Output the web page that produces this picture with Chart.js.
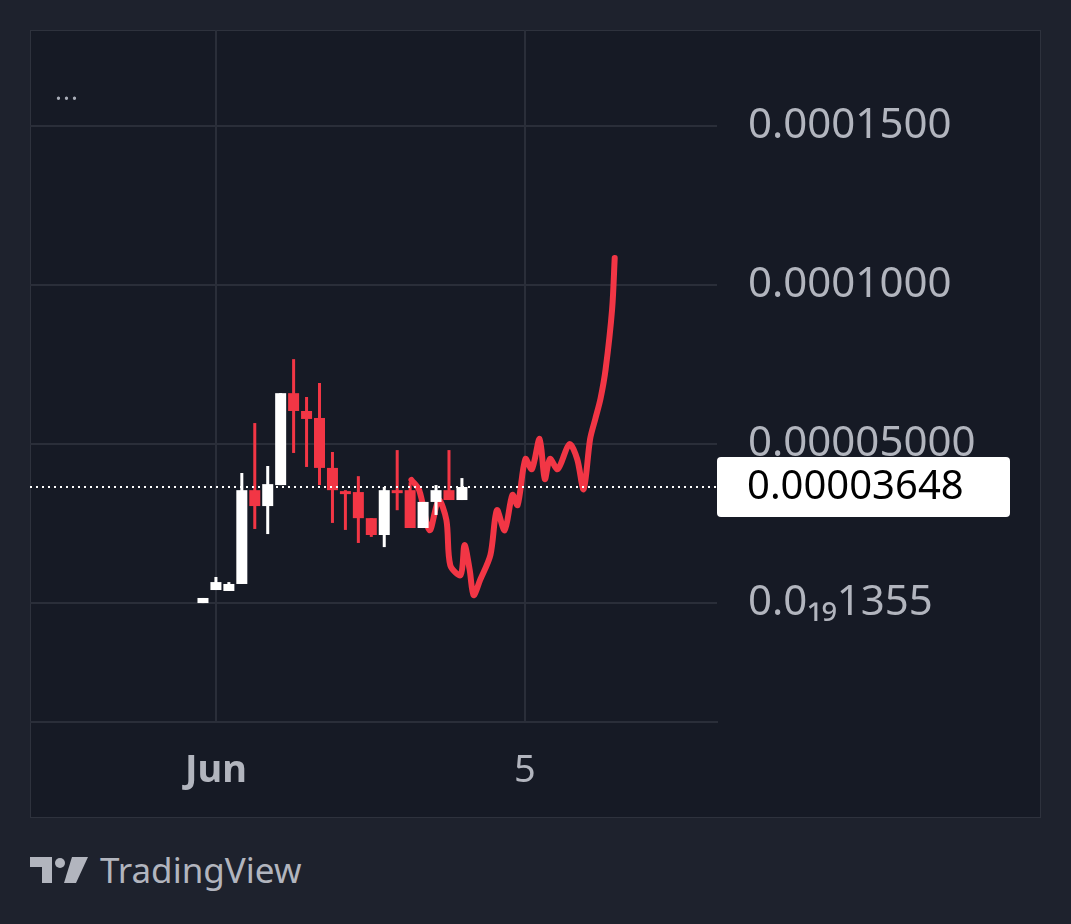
<!DOCTYPE html>
<html><head><meta charset="utf-8">
<script src="https://cdn.jsdelivr.net/npm/chart.js@4"></script>
<style>
body{margin:0;background:#1e222d;width:1071px;height:924px;overflow:hidden;font-family:"Noto Sans",sans-serif}
#box{position:absolute;left:30px;top:30px;width:1011px;height:788px;background:#161a25;border:1px solid #2e323d;box-sizing:border-box}
#c{position:absolute;left:-1px;top:-1px}
#dots{position:absolute;left:55px;top:72px;color:#a9adb8;font-size:26px;letter-spacing:1px}
#logo{position:absolute;left:30px;top:846px;color:#b2b5be;font-size:35px;display:flex;align-items:center;gap:10px}
</style></head><body>
<div id="box"><canvas id="c" width="1011" height="788"></canvas></div>
<div id="dots">...</div>
<div id="logo"><svg width="60" height="30" viewBox="0 0 60 30"><path d="M0 2h22v26h-10v-16h-12z" fill="#b2b5be"/><circle cx="30" cy="8" r="5" fill="#b2b5be"/><path d="M42 2h16l-12 26h-12z" fill="#b2b5be"/></svg>TradingView</div>
<script>
// candles, values in units of 1e-5
const candleOpen  = [0,   4.1, 3.8, 6.0, 35.5, 30.5, 37.1, 66.0, 60.4, 58.2, 42.5, 35.2, 34.9, 26.7, 21.4, 35.5, 35.5, 23.6, 31.8, 35.5, 32.4];
const candleClose = [1.6, 6.6, 6.0, 35.5,30.5, 37.4, 66.0, 60.4, 57.9, 42.5, 35.5, 34.9, 26.7, 21.4, 35.5, 35.2, 23.6, 31.8, 35.5, 32.4, 36.5];
const candleHigh  = [1.6, 8.2, 6.6, 40.9,56.6, 43.1, 66.0, 76.7, 64.8, 69.2, 47.5, 35.5, 39.9, 26.7, 36.5, 48.1, 38.0, 31.8, 37.1, 48.1, 39.3];
const candleLow   = [0,   4.1, 3.8, 6.0, 23.3, 21.7, 37.1, 47.2, 42.8, 37.1, 25.2, 23.0, 18.9, 20.8, 17.6, 29.2, 23.6, 23.6, 27.7, 32.4, 32.4];
// red hand-drawn line: [candle index, value]
const drawnX = [16.1,16.7,17.5,18.2,18.8,19.1,19.9,20.2,20.6,20.9,21.4,22.2,22.7,23.3,23.9,24.3,24.9,25.4,26.0,26.4,26.8,27.4,28.3,28.9,29.4,29.9,30.3,30.7,31.1,31.6,31.8];
const drawnY = [38.7,35.5,22.9,32.4,26.1,11.9,8.8,18.2,10.4,2.5,7.2,15.1,29.2,22.9,34.0,30.8,45.3,42.1,51.6,39.0,45.3,42.1,50.0,45.3,35.8,51.6,57.9,64.2,73.6,92.5,108.5];
const lastPrice = 3.648;
const priceTicks = [0, 5, 10, 15];
const priceLabels = ['0.0\u2081\u20891355', '0.00005000', '0.0001000', '0.0001500'];
const timeTicks = [1, 24.86];
const timeLabels = ['Jun', '5'];

const candlePlugin = {
  id: 'candles',
  afterDatasetsDraw(chart) {
    const {ctx, scales: {x, y}} = chart;
    ctx.save();
    for (let i = 0; i < candleHigh.length; i++) {
      const o = candleOpen[i], c = candleClose[i];
      const col = c >= o ? '#ffffff' : '#f23645';
      const px = x.getPixelForValue(i);
      ctx.fillStyle = col;
      ctx.fillRect(px - 1.5, y.getPixelForValue(candleHigh[i]), 3, y.getPixelForValue(candleLow[i]) - y.getPixelForValue(candleHigh[i]));
      const top = y.getPixelForValue(Math.max(o, c)), bot = y.getPixelForValue(Math.min(o, c));
      ctx.fillRect(px - 5.5, top, 11, Math.max(3, bot - top));
    }
    const py = y.getPixelForValue(lastPrice * 10);
    ctx.strokeStyle = '#ffffff'; ctx.lineWidth = 2; ctx.setLineDash([2, 4]);
    ctx.beginPath(); ctx.moveTo(chart.chartArea.left, py); ctx.lineTo(chart.chartArea.right, py); ctx.stroke();
    ctx.setLineDash([]);
    ctx.fillStyle = '#ffffff';
    ctx.beginPath(); ctx.roundRect(chart.chartArea.right, py - 30, 293, 60, 4); ctx.fill();
    ctx.fillStyle = '#000'; ctx.font = '40px "Noto Sans"'; ctx.textBaseline = 'middle';
    ctx.fillText('0.00003648', chart.chartArea.right + 30, py + 1);
    ctx.restore();
  }
};

new Chart(document.getElementById('c'), {
  type: 'line',
  data: { datasets: [{
    data: drawnX.map((v, i) => ({x: v, y: drawnY[i]})),
    borderColor: '#f23645', borderWidth: 6, pointRadius: 0, tension: 0.3,
    borderCapStyle: 'round', borderJoinStyle: 'round'
  }]},
  options: {
    responsive: false, animation: false, events: [],
    layout: { padding: { top: 0 } },
    plugins: { legend: { display: false }, tooltip: { enabled: false } },
    scales: {
      x: {
        type: 'linear', min: -13.36, max: 39.7,
        afterBuildTicks: s => { s.ticks = timeTicks.map(v => ({value: v})); },
        afterFit: s => { s.height = 96; },
        grid: { color: '#2a2e39', lineWidth: 2, drawTicks: false },
        border: { color: '#2a2e39', width: 2 },
        ticks: { color: '#b2b5be', padding: 26, maxRotation: 0,
          font: c => ({ size: 38, family: 'Noto Sans', weight: c.index === 0 ? 'bold' : 'normal' }),
          callback: (v, i) => timeLabels[i] }
      },
      y: {
        position: 'right', min: -37.4, max: 180.2,
        afterBuildTicks: s => { s.ticks = priceTicks.map(v => ({value: v * 10})); },
        afterFit: s => { s.width = 324; s.paddingTop = 0; s.paddingBottom = 0; },
        grid: { color: '#2a2e39', lineWidth: 2, drawTicks: false },
        border: { display: false },
        ticks: { color: '#b2b5be', padding: 31, font: { size: 42, family: 'Noto Sans' },
          callback: (v, i) => priceLabels[i] }
      }
    }
  },
  plugins: [candlePlugin]
});
</script></body></html>
